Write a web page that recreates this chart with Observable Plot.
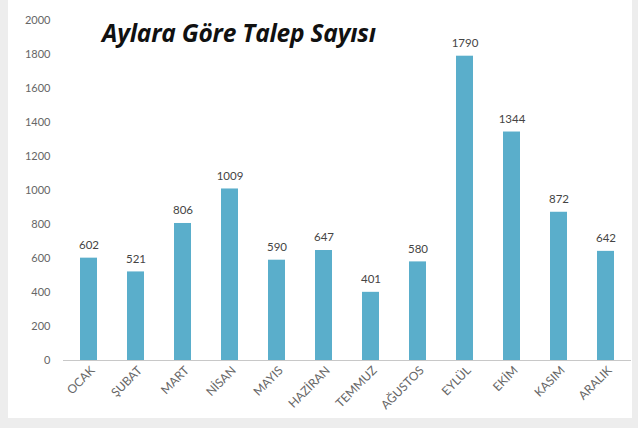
<!DOCTYPE html>
<html>
<head>
<meta charset="utf-8">
<script src="https://cdn.jsdelivr.net/npm/d3@7"></script>
<script src="https://cdn.jsdelivr.net/npm/@observablehq/plot@0.6"></script>
<style>
  html, body { margin: 0; padding: 0; background: #ededed; width: 638px; height: 428px; overflow: hidden; }
  #panel { position: absolute; left: 8px; top: 0; width: 624px; height: 418px; background: #fff; }
  #chart { position: absolute; left: 0; top: 0; }
  #title { position: absolute; left: 102px; top: 16px; font-family: "Open Sans", sans-serif; font-weight: 700; font-style: italic; font-size: 24.5px; color: #111; letter-spacing: -0.2px; white-space: nowrap; }
</style>
</head>
<body>
<div id="panel"></div>
<div id="chart"></div>
<div id="title">Aylara Göre Talep Sayısı</div>
<script>
const months = ["OCAK", "ŞUBAT", "MART", "NİSAN", "MAYIS", "HAZİRAN", "TEMMUZ", "AĞUSTOS", "EYLÜL", "EKİM", "KASIM", "ARALIK"];
const requests = [602, 521, 806, 1009, 590, 647, 401, 580, 1790, 1344, 872, 642];
const yTicks = [0, 200, 400, 600, 800, 1000, 1200, 1400, 1600, 1800, 2000];

const data = months.map((m, i) => ({month: m, value: requests[i]}));

const chart = Plot.plot({
  width: 638,
  height: 428,
  marginTop: 20,
  marginBottom: 68,
  marginLeft: 63,
  marginRight: 7,
  style: {background: "transparent", fontFamily: "Lato, sans-serif", fontSize: "11px", color: "#666"},
  x: {domain: months, paddingInner: 0.64, paddingOuter: 0.33, label: null},
  y: {domain: [0, 2000], ticks: yTicks, tickFormat: "d", label: null, tickSize: 0, tickPadding: 13},
  marks: [
    Plot.barY(data, {x: "month", y: "value", fill: "#5aaecb"}),
    Plot.ruleY([0], {stroke: "#c8c8c8", strokeWidth: 1}),
    Plot.text(data, {x: "month", y: "value", text: d => String(d.value), dy: -13, fill: "#444", fontSize: 11.5}),
    Plot.axisX({tickSize: 0, tickPadding: 8, tickRotate: -45, fontSize: 12, fill: "#666", label: null, letterSpacing: "0.6px", dx: 4})
  ]
});
document.getElementById("chart").appendChild(chart);
</script>
</body>
</html>
